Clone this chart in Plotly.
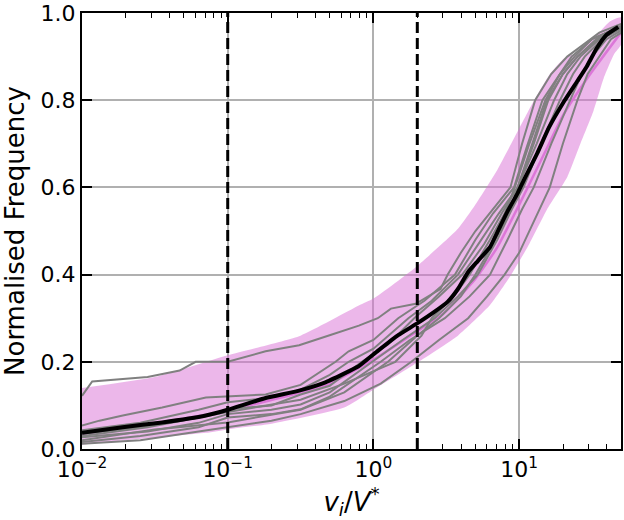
import numpy as np
import plotly.graph_objects as go

# ---- data ----
mean_x = [0.010, 0.019, 0.0355, 0.0708, 0.100, 0.182, 0.309, 0.468, 0.676, 0.794, 1.072, 1.479,
          1.995, 2.63, 3.24, 3.80, 4.47, 5.20, 6.31, 7.08, 8.32, 9.77, 10.96, 13.3, 16.0, 20.4,
          25.1, 29.2, 33.9, 39.8, 47.9]
mean_y = [0.037, 0.050, 0.061, 0.077, 0.090, 0.117, 0.134, 0.153, 0.178, 0.190, 0.225, 0.261,
          0.288, 0.315, 0.338, 0.367, 0.406, 0.431, 0.463, 0.497, 0.545, 0.587, 0.622, 0.678, 0.737, 0.798,
          0.844, 0.878, 0.918, 0.950, 0.968]

median_x = [0.010, 0.03, 0.1, 0.3, 0.5, 1.0, 2.0, 3.0, 5.0, 7.0, 10.0, 15.0, 20.0, 30.0, 50.0]
median_y = [0.035, 0.058, 0.088, 0.128, 0.15, 0.205, 0.27, 0.31, 0.39, 0.46, 0.56, 0.68, 0.765, 0.855, 0.955]

band_up_x = [0.010, 0.0316, 0.10, 0.316, 0.794, 1.0, 2.0, 3.8, 5.0, 7.08, 10.0, 12.6, 16.2, 20.4,
             25.1, 32.4, 41.7, 50.0]
band_up_y = [0.14, 0.165, 0.215, 0.26, 0.329, 0.345, 0.42, 0.505, 0.56, 0.64, 0.735, 0.798, 0.859, 0.896,
             0.91, 0.941, 0.98, 0.99]
band_lo_x = [0.010, 0.020, 0.0708, 0.10, 0.20, 0.63, 1.0, 2.04, 3.8, 6.31, 8.71, 11.5, 15.5, 21.4,
             26.3, 32.4, 38.0, 44.7, 50.0]
band_lo_y = [0.01, 0.02, 0.037, 0.045, 0.058, 0.095, 0.136, 0.20, 0.26, 0.33, 0.397, 0.465, 0.549, 0.624,
             0.70, 0.776, 0.85, 0.905, 0.927]

# individual runs: log10 of v_i/V* and normalised frequency
a_lx = [-2.00, -1.93, -1.55, -1.33, -1.22, -1.00, -0.74, -0.51, -0.29, -0.10, 0.03, 0.12, 0.29, 0.46,
        0.51, 0.60, 0.70, 0.82, 0.94, 1.02, 1.11, 1.22, 1.33, 1.45, 1.55, 1.70]
a_y = [0.122, 0.155, 0.165, 0.18, 0.20, 0.20, 0.224, 0.238, 0.262, 0.283, 0.30, 0.322, 0.333, 0.367,
       0.40, 0.45, 0.50, 0.55, 0.60, 0.70, 0.80, 0.86, 0.90, 0.93, 0.955, 0.975]
b_lx = [-2.00, -1.88, -1.72, -1.45, -1.15, -0.74, -0.50, -0.26, -0.17, 0.00, 0.17, 0.35, 0.56, 0.70,
        0.82, 0.965, 1.05, 1.16, 1.26, 1.36, 1.50, 1.70]
b_y = [0.054, 0.065, 0.077, 0.095, 0.118, 0.125, 0.147, 0.20, 0.224, 0.25, 0.30, 0.34, 0.40, 0.48,
       0.54, 0.60, 0.69, 0.80, 0.85, 0.90, 0.94, 0.97]
c_lx = [-2.00, -1.60, -1.20, -1.00, -0.70, -0.50, -0.30, -0.17, 0.00, 0.24, 0.40, 0.58, 0.72, 0.86,
        0.99, 1.08, 1.19, 1.30, 1.40, 1.52, 1.70]
c_y = [0.043, 0.06, 0.09, 0.107, 0.118, 0.136, 0.17, 0.20, 0.23, 0.30, 0.34, 0.40, 0.47, 0.54,
       0.60, 0.69, 0.80, 0.86, 0.90, 0.935, 0.965]
d_lx = [-2.00, -1.60, -1.20, -1.00, -0.70, -0.50, -0.30, -0.08, 0.10, 0.28, 0.45, 0.61, 0.76, 0.88,
        0.99, 1.12, 1.24, 1.33, 1.42, 1.55, 1.70]
d_y = [0.035, 0.05, 0.072, 0.091, 0.10, 0.125, 0.145, 0.20, 0.24, 0.30, 0.35, 0.40, 0.47, 0.54,
       0.60, 0.70, 0.80, 0.86, 0.90, 0.94, 0.965]
e_lx = [-2.00, -1.55, -1.20, -1.00, -0.70, -0.50, -0.30, -0.01, 0.20, 0.42, 0.58, 0.716, 0.85, 0.95,
        1.03, 1.15, 1.28, 1.37, 1.45, 1.57, 1.70]
e_y = [0.027, 0.04, 0.06, 0.08, 0.09, 0.102, 0.13, 0.20, 0.25, 0.30, 0.35, 0.40, 0.48, 0.55,
       0.60, 0.70, 0.80, 0.86, 0.90, 0.94, 0.965]
f_lx = [-2.00, -1.60, -1.20, -1.00, -0.70, -0.50, -0.30, 0.05, 0.25, 0.49, 0.66, 0.80, 0.92, 1.02,
        1.10, 1.22, 1.35, 1.43, 1.50, 1.60, 1.70]
f_y = [0.016, 0.03, 0.05, 0.072, 0.08, 0.091, 0.12, 0.20, 0.25, 0.30, 0.35, 0.40, 0.48, 0.55,
       0.60, 0.70, 0.80, 0.86, 0.90, 0.94, 0.96]
g_lx = [-2.00, -1.60, -1.20, -1.00, -0.70, -0.50, -0.20, 0.05, 0.26, 0.45, 0.65, 0.78, 0.90, 1.00,
        1.10, 1.21, 1.30, 1.40, 1.47, 1.55, 1.63, 1.70]
g_y = [0.012, 0.02, 0.04, 0.05, 0.065, 0.08, 0.11, 0.15, 0.20, 0.25, 0.30, 0.35, 0.40, 0.45,
       0.52, 0.60, 0.70, 0.80, 0.86, 0.90, 0.94, 0.955]
h_lx = [-2.00, -1.50, -1.00, -0.50, -0.20, 0.10, 0.30, 0.45, 0.60, 0.70, 0.82, 0.93, 0.99, 1.10,
        1.20, 1.30, 1.40, 1.53, 1.70]
h_y = [0.02, 0.045, 0.061, 0.09, 0.13, 0.20, 0.26, 0.30, 0.35, 0.40, 0.47, 0.54, 0.60, 0.70,
       0.80, 0.86, 0.90, 0.94, 0.97]
i_lx = [-2.00, -1.55, -1.00, -0.50, -0.20, 0.15, 0.33, 0.40, 0.55, 0.66, 0.80, 0.90, 0.97, 1.07,
        1.18, 1.28, 1.38, 1.50, 1.70]
i_y = [0.03, 0.05, 0.085, 0.113, 0.15, 0.20, 0.26, 0.30, 0.35, 0.40, 0.48, 0.54, 0.60, 0.70,
       0.80, 0.86, 0.90, 0.94, 0.97]

runs = [(a_lx, a_y), (b_lx, b_y), (c_lx, c_y), (d_lx, d_y), (e_lx, e_y),
        (f_lx, f_y), (g_lx, g_y), (h_lx, h_y), (i_lx, i_y)]

vlines_x = [0.1, 2.0]
x_ticks = [0.01, 0.1, 1, 10]
x_ticktext = ['10<sup>\u22122</sup>', '10<sup>\u22121</sup>', '10<sup>0</sup>', '10<sup>1</sup>']
y_ticks = [0.0, 0.2, 0.4, 0.6, 0.8, 1.0]
x_max = 50.0

# ---- figure ----
fig = go.Figure()

fig.add_trace(go.Scatter(
    x=band_up_x + band_lo_x[::-1], y=band_up_y + band_lo_y[::-1],
    fill='toself', fillcolor='rgba(218,112,214,0.5)', line=dict(width=0, shape='spline', smoothing=0.5),
    mode='lines', hoverinfo='skip'))

fig.add_trace(go.Scatter(x=median_x, y=median_y, mode='lines',
                         line=dict(color='rgba(218,112,214,0.9)', width=2.5, shape='spline', smoothing=0.5)))

for lx, yy in runs:
    fig.add_trace(go.Scatter(x=10 ** np.array(lx), y=yy, mode='lines',
                             line=dict(color='gray', width=2)))

fig.add_trace(go.Scatter(x=mean_x, y=mean_y, mode='lines',
                         line=dict(color='black', width=4, shape='spline', smoothing=0.4)))

for vx in vlines_x:
    fig.add_trace(go.Scatter(x=[vx, vx], y=[0, 1], mode='lines',
                             line=dict(color='black', width=3, dash='11px,5px')))

fig.update_layout(
    width=624, height=520,
    margin=dict(l=82, r=1, t=10, b=68),
    paper_bgcolor='white', plot_bgcolor='white',
    showlegend=False,
    font=dict(family='DejaVu Sans', size=22, color='black'),
)

fig.update_xaxes(
    type='log', range=[-2, np.log10(x_max)], tickvals=x_ticks, ticktext=x_ticktext,
    showgrid=True, gridcolor='#b0b0b0', gridwidth=1.5, zeroline=False,
    ticks='inside', ticklen=10, tickwidth=1.5, tickcolor='black',
    showline=True, linecolor='black', linewidth=2, mirror='allticks',
    minor=dict(ticks='inside', ticklen=5, tickwidth=1, tickcolor='black', dtick='D1', showgrid=False),
    title=dict(text='<i>v<sub>i</sub></i>/<i>V</i><sup>*</sup>', standoff=18),
)
fig.update_yaxes(
    range=[0, 1], tickvals=y_ticks, tickformat='.1f', ticklabeloverflow='allow',
    showgrid=True, gridcolor='#b0b0b0', gridwidth=1.5, zeroline=False,
    ticks='inside', ticklen=10, tickwidth=1.5, tickcolor='black',
    showline=True, linecolor='black', linewidth=2, mirror='allticks',
    title=dict(text='Normalised Frequency', standoff=10),
)

fig.write_html('out.html')
